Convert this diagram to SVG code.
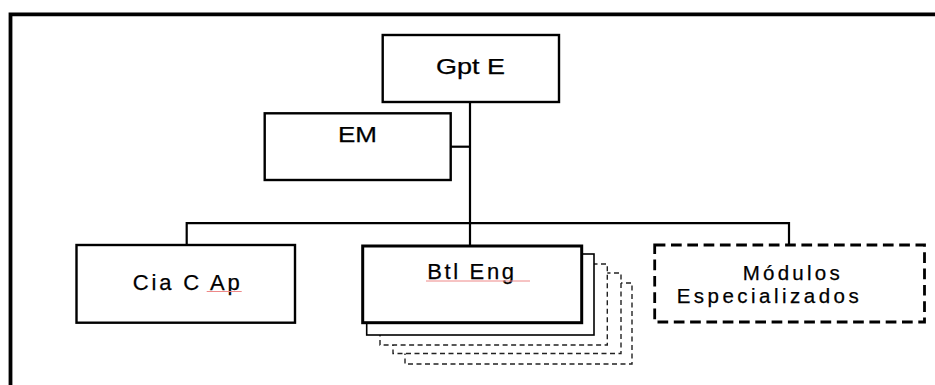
<svg xmlns="http://www.w3.org/2000/svg" width="935" height="385" viewBox="0 0 935 385">
<style>
.box{fill:#fff;stroke:#000;stroke-width:2.4}
.lbl{font-family:"Liberation Sans",Arial,sans-serif;font-size:22px;fill:#000;stroke:#000;stroke-width:0.25;text-anchor:start}
.sm{font-size:20.5px}
.wire{fill:none;stroke:#000;stroke-width:2.2}
.stk{fill:#fff;stroke:#222;stroke-width:1.4;stroke-dasharray:5 3.5}
.sq{stroke:#e88;stroke-width:1;fill:none}
</style>
<rect width="935" height="385" fill="#fff"/>
<path d="M10.5,400 V14.3 H945" fill="none" stroke="#000" stroke-width="3.8"/>
<g id="connectors">
<path class="wire" d="M470,102 V246"/>
<path class="wire" d="M450.7,146.7 H470"/>
<path class="wire" d="M186.7,245 V223.2 H789 V245"/>
</g>
<g id="gpt-e">
<rect class="box" x="382.7" y="35" width="176.3" height="67"/>
<text class="lbl" x="436" y="74.3" textLength="69" lengthAdjust="spacingAndGlyphs">Gpt E</text>
</g>
<g id="em">
<rect class="box" x="264.7" y="113.3" width="186" height="66.7"/>
<text class="lbl" x="338" y="141.7" textLength="39" lengthAdjust="spacingAndGlyphs">EM</text>
</g>
<g id="cia-c-ap">
<rect class="box" x="76.5" y="245" width="218.5" height="77.7"/>
<text class="lbl" x="132.7" y="290" textLength="107" lengthAdjust="spacing">Cia C Ap</text>
<path class="sq" d="M206.7,291.5 H241.7"/>
</g>
<g id="btl-eng">
<rect class="stk" x="405" y="283" width="227" height="81"/>
<rect class="stk" x="393" y="273" width="228" height="80.5"/>
<rect class="stk" x="380" y="264" width="227.3" height="81"/>
<rect fill="#fff" stroke="#000" stroke-width="1.6" x="366.7" y="254" width="227.3" height="81"/>
<rect fill="#fff" stroke="#000" stroke-width="3" x="362.7" y="246" width="219" height="76.7"/>
<text class="lbl" x="427.3" y="279.3" textLength="86.7" lengthAdjust="spacing">Btl Eng</text>
<path class="sq" d="M426,281 H530"/>
</g>
<g id="modulos-especializados">
<rect fill="#fff" stroke="#000" stroke-width="2.8" stroke-dasharray="10.7 5.6" x="654.7" y="245" width="269.8" height="77"/>
<text class="lbl sm" x="742.7" y="279.5" textLength="97" lengthAdjust="spacing">Módulos</text>
<text class="lbl sm" x="676.7" y="303" textLength="182" lengthAdjust="spacing">Especializados</text>
</g>
</svg>
